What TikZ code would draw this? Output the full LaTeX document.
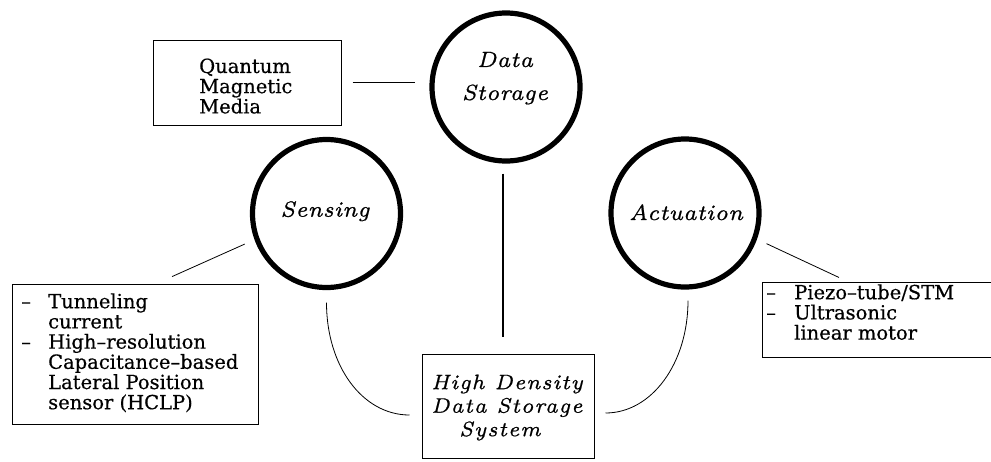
\documentclass[tikz,border=0pt]{standalone}
\usepackage{fontspec}
\newfontfamily\boxfont{DejaVu Serif}[FakeBold=0.5]
\newfontfamily\itfont{lmroman7-italic.otf}[LetterSpace=2, FakeBold=0.8]
\newfontfamily\ithdfont{lmroman7-italic.otf}[LetterSpace=5, FakeBold=0.8]
\begin{document}
\begin{tikzpicture}[x=1pt,y=-1pt,
  link/.style={line width=0.8pt},
  hub/.style={circle, draw, line width=5.2pt, minimum size=148pt, inner sep=0pt},
  frame/.style={draw, line width=1pt, inner sep=0pt},
  it/.style={font=\itfont\fontsize{22}{33}\selectfont, inner sep=0pt},
  ithd/.style={font=\ithdfont\fontsize{21}{23.5}\selectfont, inner sep=0pt},
  txt/.style={font=\boxfont\fontsize{19.5}{20.2}\selectfont, align=left, inner sep=0pt, anchor=north west},
]
\useasboundingbox (0,0) rectangle (991,461);

% the three topic circles
\node[hub] (ds) at (506,87) {};
\node[hub] (sens) at (326.5,213.5) {};
\node[hub] (act) at (685,213) {};

% framed boxes (the actuation box runs off the right edge)
\node[frame, minimum width=188pt, minimum height=85pt] (qbox) at (247,82.5) {};
\node[frame, minimum width=246pt, minimum height=140pt] (sbox) at (135,354) {};
\node[frame, minimum width=234pt, minimum height=75pt] (abox) at (879,319.5) {};
\node[frame, minimum width=172pt, minimum height=104pt] (hd) at (508,406) {};

% circle labels
\node[it, align=center] (dstext) at (505,78.2) {Data\\Storage};
\node[it, anchor=base] (senstext) at (325,216.7) {Sensing};
\node[it, anchor=base] (acttext) at (686,220) {Actuation};

% box texts
\node[ithd, align=left, anchor=north west] (hdtext) at (431,374.4)
  {High Density\\Data Storage\\\hspace*{28pt}System};
\node[txt] (qtext) at (199,58.3) {Quantum\\Magnetic\\Media};
\node[txt] (stext) at (21,293.2)
  {\makebox[27pt][l]{–}Tunneling\\\hspace*{27pt}current\\
   \makebox[27pt][l]{–}High–resolution\\\hspace*{27pt}Capacitance–based\\
   \hspace*{27pt}Lateral Position\\\hspace*{27pt}sensor (HCLP)};
\node[txt] (atext) at (766,284.2)
  {\makebox[28pt][l]{–}Piezo–tube/STM\\\makebox[28pt][l]{–}Ultrasonic\\
   \hspace*{28pt}linear motor};

% connectors
\draw[link, shorten <=11pt, shorten >=14pt] (qbox.east) -- (qbox.east -| ds.west);
\coordinate (dsfoot) at ([xshift=-3pt]ds.south);
\draw[link, line width=1.1pt, shorten <=10pt, shorten >=17pt] (dsfoot) -- (dsfoot |- hd.north);
\draw[link, shorten <=10.8pt, shorten >=17pt] (sens.200) -- ([xshift=21.6pt]sbox.north);
\draw[link, shorten <=10.5pt, shorten >=9.5pt] (act.-20) -- ([xshift=-31.4pt]abox.north);
\draw[link] ([yshift=-12.5pt]sens.south) .. controls +(0,63.5) and +(-47,0)
  .. ([xshift=-12pt,yshift=-9pt]hd.west);
\draw[link] ([xshift=3pt,yshift=-11pt]act.south) .. controls +(0,63) and +(46,0)
  .. ([xshift=11pt,yshift=-7pt]hd.east);
\end{tikzpicture}
\end{document}
